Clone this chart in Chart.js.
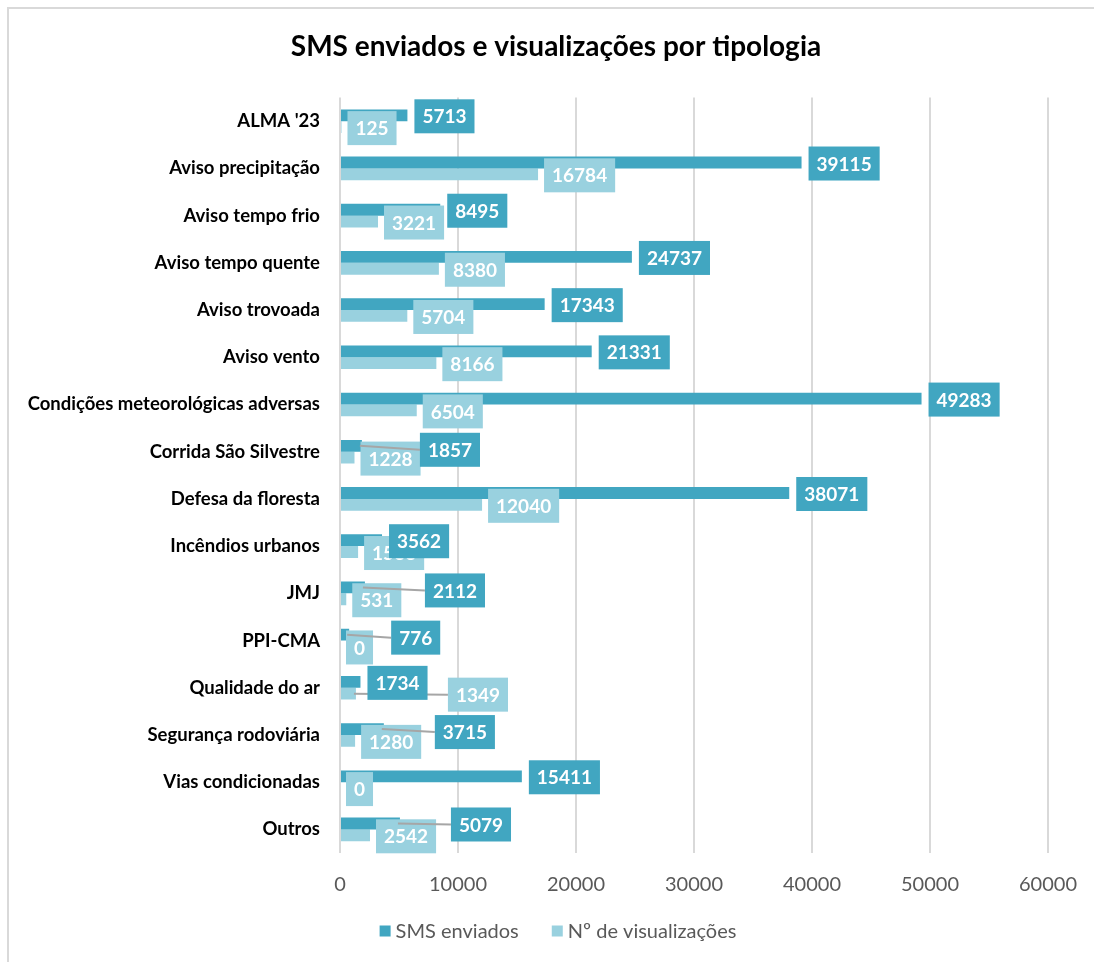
<!DOCTYPE html>
<html>
<head>
<meta charset="utf-8">
<script src="https://cdn.jsdelivr.net/npm/chart.js@4.4.1/dist/chart.umd.min.js"></script>
<style>
  html, body { margin: 0; padding: 0; background: #ffffff; }
  #wrap { position: relative; width: 1094px; height: 962px; }
</style>
</head>
<body>
<div id="wrap"><canvas id="c" width="1094" height="962"></canvas></div>
<script>
const categories = [
  "ALMA '23", "Aviso precipitação", "Aviso tempo frio", "Aviso tempo quente",
  "Aviso trovoada", "Aviso vento", "Condições meteorológicas adversas",
  "Corrida São Silvestre", "Defesa da floresta", "Incêndios urbanos", "JMJ",
  "PPI-CMA", "Qualidade do ar", "Segurança rodoviária", "Vias condicionadas", "Outros"
];
const smsEnviados = [5713, 39115, 8495, 24737, 17343, 21331, 49283, 1857, 38071, 3562, 2112, 776, 1734, 3715, 15411, 5079];
const visualizacoes = [125, 16784, 3221, 8380, 5704, 8166, 6504, 1228, 12040, 1533, 531, 0, 1349, 1280, 0, 2542];
const xTicks = [0, 10000, 20000, 30000, 40000, 50000, 60000];
const seriesNames = ["SMS enviados", "Nº de visualizações"];

const DARK = '#41A6C1';
const LIGHT = '#99D1DF';

// manually moved data labels (as in the original), keyed by dataset index and category
const labelMoves = {
  0: { "Corrida São Silvestre": [51, 3], "JMJ": [53, 2], "PPI-CMA": [35, 2], "Segurança rodoviária": [44, 2], "Outros": [44, 0] },
  1: { "Qualidade do ar": [86, 0] }
};

const frame = {
  id: 'frame',
  afterLayout(chart) {
    if (chart.titleBlock) chart.titleBlock.left = 64;
  },
  beforeDraw(chart) {
    const ctx = chart.ctx;
    ctx.save();
    ctx.fillStyle = '#ffffff';
    ctx.fillRect(0, 0, chart.width, chart.height);
    ctx.strokeStyle = '#d9d9d9';
    ctx.lineWidth = 2;
    ctx.beginPath();
    ctx.moveTo(8, chart.height);
    ctx.lineTo(8, 8);
    ctx.lineTo(chart.width, 8);
    ctx.stroke();
    ctx.restore();
  },
  afterDraw(chart) {
    // legend drawn from the datasets (centred like the original)
    const ctx = chart.ctx;
    ctx.save();
    ctx.font = '20px Lato';
    ctx.textBaseline = 'middle';
    ctx.textAlign = 'left';
    const sq = 11, gapTxt = 5, gapItem = 33;
    const items = chart.data.datasets.map(ds => ({ text: ds.label, color: ds.backgroundColor, w: ctx.measureText(ds.label).width }));
    const total = items.reduce((s, it) => s + sq + gapTxt + it.w, 0) + gapItem * (items.length - 1);
    let x = 558 - total / 2;
    const y = 931;
    items.forEach(it => {
      ctx.fillStyle = it.color;
      ctx.fillRect(x, y - sq / 2, sq, sq);
      x += sq + gapTxt;
      ctx.fillStyle = '#595959';
      ctx.fillText(it.text, x, y + 1);
      x += it.w + gapItem;
    });
    ctx.restore();
  }
};

const boxLabels = {
  id: 'boxLabels',
  afterDatasetsDraw(chart) {
    const ctx = chart.ctx;
    ctx.save();
    ctx.font = 'bold 19px Lato';
    ctx.textBaseline = 'middle';
    ctx.textAlign = 'center';
    const boxes = { 0: [], 1: [] };
    const lines = [];
    [1, 0].forEach(di => {
      const meta = chart.getDatasetMeta(di);
      const ds = chart.data.datasets[di];
      meta.data.forEach((bar, i) => {
        const v = ds.data[i];
        const txt = String(v);
        const tw = ctx.measureText(txt).width;
        const w = tw + 16;
        const h = 34;
        const mv = (labelMoves[di] || {})[categories[i]] || [0, 0];
        const gap = di === 0 ? 7 : 6;
        const x0 = bar.x + gap + mv[0];
        const cy = bar.y + 1 + mv[1];
        boxes[di].push({ x0, cy, w, h, txt, color: ds.backgroundColor });
        if (mv[0] > 20) lines.push([bar.x - 2, bar.y, x0, cy]);
      });
    });
    const drawBoxes = arr => arr.forEach(b => {
      ctx.fillStyle = b.color;
      ctx.fillRect(b.x0, b.cy - b.h / 2, b.w, b.h);
      ctx.fillStyle = '#ffffff';
      ctx.fillText(b.txt, b.x0 + b.w / 2, b.cy + 1);
    });
    drawBoxes(boxes[1]);
    ctx.strokeStyle = '#a6a6a6';
    ctx.lineWidth = 2;
    lines.forEach(l => {
      ctx.beginPath();
      ctx.moveTo(l[0], l[1]);
      ctx.lineTo(l[2], l[3]);
      ctx.stroke();
    });
    drawBoxes(boxes[0]);
    ctx.restore();
  }
};

new Chart(document.getElementById('c'), {
  type: 'bar',
  data: {
    labels: categories,
    datasets: [
      { label: seriesNames[0], data: smsEnviados, backgroundColor: DARK, categoryPercentage: 0.5, barPercentage: 1.0 },
      { label: seriesNames[1], data: visualizacoes, backgroundColor: LIGHT, categoryPercentage: 0.5, barPercentage: 1.0 }
    ]
  },
  plugins: [frame, boxLabels],
  options: {
    indexAxis: 'y',
    responsive: false,
    animation: false,
    devicePixelRatio: 1,
    layout: { padding: { left: 0, right: 46, top: 8, bottom: 45 } },
    scales: {
      x: {
        min: 0, max: 60000,
        afterBuildTicks(scale) { scale.ticks = xTicks.map(v => ({ value: v })); },
        afterFit(scale) { scale.paddingRight = 0; },
        grid: { color: '#d9d9d9', lineWidth: 2, drawTicks: false },
        border: { display: false },
        ticks: { color: '#595959', font: { family: 'Lato', size: 20 }, padding: 20, callback: v => String(v) }
      },
      y: {
        afterFit(scale) { scale.width = 340; },
        grid: { display: false, drawTicks: false },
        border: { display: false },
        ticks: { color: '#000000', font: { family: 'Lato', size: 18.5, weight: 'bold' }, padding: 20 }
      }
    },
    plugins: {
      title: {
        display: true,
        text: 'SMS enviados e visualizações por tipologia',
        color: '#000000',
        font: { family: 'Lato', size: 28, weight: 'bold' },
        padding: { top: 22, bottom: 34 }
      },
      legend: { display: false },
      tooltip: { enabled: false }
    }
  }
});
</script>
</body>
</html>
